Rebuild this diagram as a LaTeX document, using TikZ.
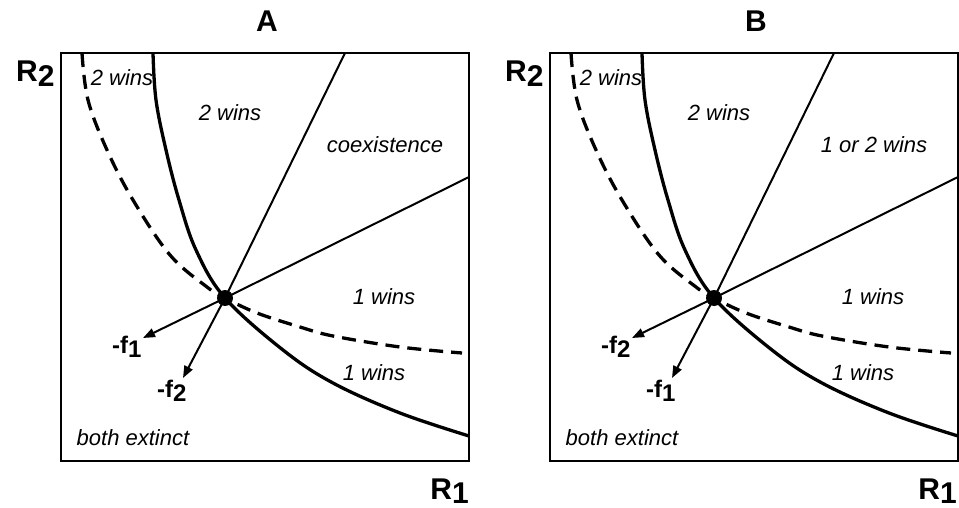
\documentclass[tikz,border=0pt]{standalone}
\usepackage{fontspec}
\setmainfont{Liberation Sans}
\usetikzlibrary{arrows.meta}
\tikzset{
  frame/.style={draw, line width=2.2pt, inner sep=0pt, minimum width=408pt, minimum height=408pt},
  rayline/.style={line width=2pt},
  bound/.style={line width=3.3pt},
  boundd/.style={line width=3.3pt, dash pattern=on 14pt off 8pt},
  region/.style={font=\fontsize{22}{26}\selectfont\itshape, inner sep=0pt},
  axislab/.style={font=\fontsize{30}{34}\selectfont\bfseries, inner sep=0pt},
  flab/.style={font=\fontsize{24}{28}\selectfont\bfseries, inner sep=0pt},
  arr/.style={line width=2pt, -{Triangle[length=12pt,width=9pt]}},
  eqdot/.style={circle, fill, inner sep=0pt, minimum size=16pt},
}
\newcommand\drawpanel[7]{%
  \begin{scope}[xshift=#2]
    \node[frame] (#1box) at (265,257) {};
    \node[font=\fontsize{30}{34}\selectfont\bfseries, inner sep=0pt] (#1title) at (267,21) {#3};
    \node[axislab, anchor=base west] (#1R2) at (16,82) {R\raisebox{-5pt}{2}};
    \node[axislab, anchor=base east] (#1R1) at (#7,499) {R\raisebox{-4pt}{1}};
    \draw[boundd] plot[smooth, tension=0.6] coordinates {(82,53) (88,100) (107,150) (133,200) (170,255) (207,287) (225,298) (257,313) (300,327) (333,336) (400,347) (462,353)};
    \draw[bound] plot[smooth, tension=0.6] coordinates {(153,53) (156,100) (166,150) (179,200) (196,250) (225,298) (283,350) (333,383) (400,413) (469,436)};
    \coordinate (#1top) at (345,53);
    \coordinate (#1right) at (469,177);
    \coordinate (#1tipA) at (143,338);
    \coordinate (#1tipB) at (183,378);
    \node[eqdot] (#1P) at (225,298) {};
    \draw[rayline] (#1P.center) -- (#1top);
    \draw[rayline] (#1P.center) -- (#1right);
    \draw[arr] (#1P.center) -- (#1tipA);
    \draw[arr] (#1P.center) -- (#1tipB);
    \node[flab, anchor=base west] (#1labA) at (112,353) {-f\raisebox{-4pt}{#5}};
    \node[flab, anchor=base west] (#1labB) at (157,397) {-f\raisebox{-4pt}{#6}};
    \node[region] (#1r1) at (122,78) {2 wins};
    \node[region] (#1r2) at (230,113) {2 wins};
    \node[region] (#1r3) at (385,145) {#4};
    \node[region] (#1r4) at (384,297) {1 wins};
    \node[region] (#1r5) at (374,373) {1 wins};
    \node[region] (#1r6) at (133,438) {both extinct};
  \end{scope}}
\begin{document}
\begin{tikzpicture}[x=1pt,y=-1pt]
  \useasboundingbox (0,0) rectangle (959,508);
  \drawpanel{a}{0pt}{A}{coexistence}{1}{2}{469}
  \drawpanel{b}{489pt}{B}{1 or 2 wins}{2}{1}{468}
\end{tikzpicture}
\end{document}
